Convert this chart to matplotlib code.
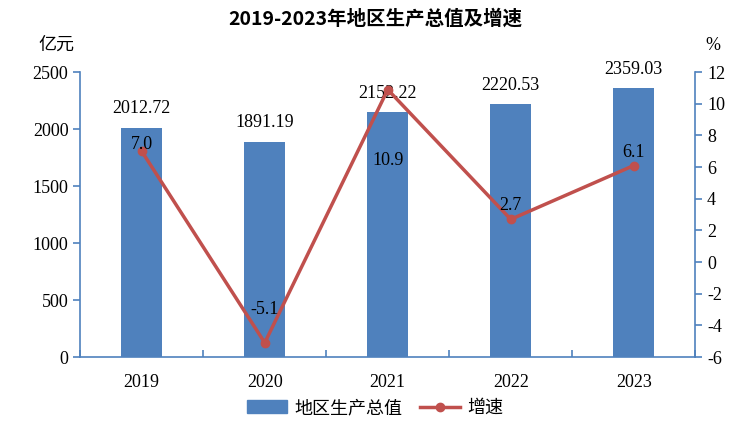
import matplotlib
matplotlib.use('Agg')
import matplotlib.pyplot as plt
import numpy as np
from matplotlib.patches import Patch
from matplotlib.lines import Line2D

plt.rcParams['font.family'] = ['Noto Sans CJK SC', 'DejaVu Sans']
plt.rcParams['axes.unicode_minus'] = False

years = ['2019', '2020', '2021', '2022', '2023']
gdp = [2012.72, 1891.19, 2152.22, 2220.53, 2359.03]
growth = [7.0, -5.1, 10.9, 2.7, 6.1]
growth_labels = ['7.0', '-5.1', '10.9', '2.7', '6.1']

bar_color = '#4F81BD'
line_color = '#C0504D'
axis_color = '#4F81BD'
serif = 'Liberation Serif'

fig = plt.figure(figsize=(7.5, 4.22), dpi=100)
ax = fig.add_axes([0.107, 0.154, 0.82, 0.675])
ax2 = ax.twinx()

x = np.arange(len(years))
ax.bar(x, gdp, width=0.33, color=bar_color, zorder=2)
ax.set_xlim(-0.5, len(years) - 0.5)
ax.set_ylim(0, 2500)
ax.set_yticks(range(0, 2501, 500))

for xi, v in zip(x, gdp):
    ax.text(xi, v + 90, f'{v:.2f}', ha='center', va='bottom',
            fontsize=13, family=serif)

ax2.plot(x, growth, color=line_color, lw=2.5, marker='o', ms=6,
         markerfacecolor=line_color, zorder=3)
ax2.set_ylim(-6, 12)
ax2.set_yticks(range(-6, 13, 2))

# label offsets (in % units)
offsets = [0.4, 2.1, -4.5, 0.9, 0.8]
for xi, v, lab, off in zip(x, growth, growth_labels, offsets):
    ax2.text(xi, v + off, lab, ha='center', va='center',
             fontsize=13, family=serif)

for a in (ax, ax2):
    for s in a.spines.values():
        s.set_visible(False)
ax.spines['left'].set_visible(True)
ax.spines['bottom'].set_visible(True)
ax2.spines['right'].set_visible(True)
for s in (ax.spines['left'], ax.spines['bottom'], ax2.spines['right']):
    s.set_color(axis_color)
    s.set_linewidth(1.2)

ax.set_xticks(x)
ax.set_xticklabels(years, family=serif, fontsize=13)
ax.tick_params(axis='x', length=0, pad=12)
ax.set_xticks(np.arange(-0.5, len(years), 1.0), minor=True)
ax.tick_params(axis='x', which='minor', direction='in', length=5,
               color=axis_color, width=1.2)
ax.tick_params(axis='y', direction='out', length=5, color=axis_color,
               width=1.2, labelsize=13)
ax2.tick_params(axis='y', direction='out', length=5, color=axis_color,
                width=1.2, labelsize=13)
for lab in ax.get_yticklabels() + ax2.get_yticklabels():
    lab.set_family(serif)

fig.text(0.5, 0.955, '2019-2023年地区生产总值及增速', ha='center', va='center',
         fontsize=14, fontweight='bold')
fig.text(0.075, 0.893, '亿元', ha='center', va='center', fontsize=13)
fig.text(0.95, 0.893, '%', ha='center', va='center', fontsize=13, family=serif)

handles = [Patch(color=bar_color, label='地区生产总值'),
           Line2D([], [], color=line_color, lw=2.5, marker='o', ms=6,
                  label='增速')]
fig.legend(handles=handles, loc='center', bbox_to_anchor=(0.5, 0.033),
           ncol=2, frameon=False, fontsize=13, handlelength=2.2,
           columnspacing=1.0, handletextpad=0.4)

fig.savefig('out.png', dpi=100, facecolor='white')
